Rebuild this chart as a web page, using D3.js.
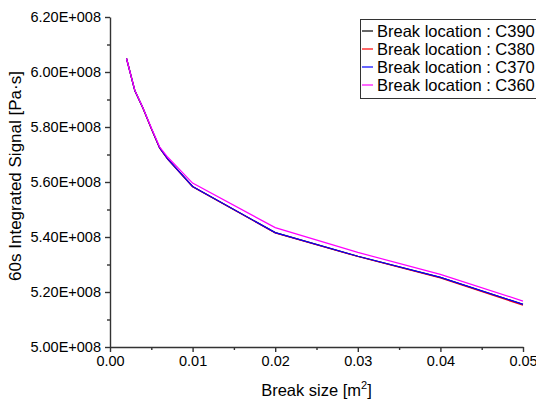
<!DOCTYPE html>
<html>
<head>
<meta charset="utf-8">
<script src="https://cdn.jsdelivr.net/npm/d3@7"></script>
<style>
  body { margin: 0; background: #fff; }
  text { font-family: "Liberation Sans", Arial, sans-serif; fill: #000; }
</style>
</head>
<body>
<div id="chart"></div>
<script>
// Chart size
const width = 536;
const height = 401;
const margin = { top: 17, right: 13, bottom: 54, left: 110 };

// Break sizes [m2]
const breakSizes = [0.002, 0.003, 0.004, 0.005, 0.006, 0.007, 0.01, 0.02, 0.03, 0.04, 0.05];

// Integrated signal per break location
const c390 = [6.049e8, 5.933e8, 5.868e8, 5.795e8, 5.725e8, 5.683e8, 5.584e8, 5.416e8, 5.330e8, 5.253e8, 5.155e8];
const c380 = [6.049e8, 5.933e8, 5.867e8, 5.794e8, 5.724e8, 5.682e8, 5.583e8, 5.415e8, 5.329e8, 5.251e8, 5.152e8];
const c370 = [6.049e8, 5.933e8, 5.868e8, 5.795e8, 5.725e8, 5.683e8, 5.584e8, 5.416e8, 5.330e8, 5.253e8, 5.155e8];
const c360 = [6.049e8, 5.934e8, 5.869e8, 5.797e8, 5.728e8, 5.690e8, 5.596e8, 5.434e8, 5.344e8, 5.264e8, 5.167e8];

const seriesNames = ["Break location : C390", "Break location : C380", "Break location : C370", "Break location : C360"];
const seriesValues = [c390, c380, c370, c360];
const seriesColors = ["#000000", "#ff0000", "#0000ff", "#ff00ff"];

// Tick values
const xTicks = [0, 0.01, 0.02, 0.03, 0.04, 0.05];
const xMinorTicks = [0.005, 0.015, 0.025, 0.035, 0.045];
const yTicks = [5.0e8, 5.2e8, 5.4e8, 5.6e8, 5.8e8, 6.0e8, 6.2e8];
const yMinorTicks = [5.1e8, 5.3e8, 5.5e8, 5.7e8, 5.9e8, 6.1e8];

const svg = d3.select('#chart')
    .append('svg')
    .attr('width', width)
    .attr('height', height);

const x = d3.scaleLinear()
    .domain([0, 0.05])
    .range([margin.left, width - margin.right]);

const y = d3.scaleLinear()
    .domain([5.0e8, 6.2e8])
    .range([height - margin.bottom, margin.top]);

// format like 6.20E+008
const sci = v => {
    const e = Math.floor(Math.log10(v));
    const m = v / Math.pow(10, e);
    return m.toFixed(2) + "E+" + String(e).padStart(3, "0");
};

// minor ticks first so the major ones sit on top
svg.append('g')
    .attr('transform', `translate(0,${y(5.0e8)})`)
    .call(d3.axisBottom(x).tickValues(xMinorTicks).tickSize(3).tickFormat(''))
    .call(g => g.select('.domain').remove());

svg.append('g')
    .attr('transform', `translate(${x(0)},0)`)
    .call(d3.axisLeft(y).tickValues(yMinorTicks).tickSize(3).tickFormat(''))
    .call(g => g.select('.domain').remove());

const xAxis = svg.append('g')
    .attr('transform', `translate(0,${y(5.0e8)})`)
    .call(d3.axisBottom(x).tickValues(xTicks).tickSize(5).tickSizeOuter(0).tickPadding(4)
        .tickFormat(d3.format('.2f')));

const yAxis = svg.append('g')
    .attr('transform', `translate(${x(0)},0)`)
    .call(d3.axisLeft(y).tickValues(yTicks).tickSize(5).tickSizeOuter(0).tickPadding(4)
        .tickFormat(sci));

svg.selectAll('.tick line, .domain')
    .attr('stroke', '#333')
    .attr('stroke-width', 1.4);

xAxis.selectAll('text').style('font-size', '14.5px').attr('fill', '#000');
yAxis.selectAll('text').style('font-size', '14.5px').attr('fill', '#000');

// Lines
const line = d3.line()
    .x((d, i) => x(breakSizes[i]))
    .y(d => y(d));

seriesValues.forEach((vals, i) => {
    svg.append('path')
        .datum(vals)
        .attr('fill', 'none')
        .attr('stroke', seriesColors[i])
        .attr('stroke-width', 1.2)
        .attr('d', line);
});

// Axis titles
svg.append('text')
    .attr('x', (x(0) + x(0.05)) / 2)
    .attr('y', 396)
    .attr('text-anchor', 'middle')
    .style('font-size', '16.5px')
    .html('Break size [m<tspan dy="-7" font-size="11px">2</tspan><tspan dy="7">]</tspan>');

svg.append('text')
    .attr('transform', `translate(21,176) rotate(-90)`)
    .attr('text-anchor', 'middle')
    .style('font-size', '17px')
    .text('60s Integrated Signal [Pa·s]');

// Legend
const legend = svg.append('g');
legend.append('rect')
    .attr('x', 360.5)
    .attr('y', 19.5)
    .attr('width', 200)
    .attr('height', 79)
    .attr('fill', '#fff')
    .attr('stroke', '#333')
    .attr('stroke-width', 1);

seriesNames.forEach((name, i) => {
    const ly = 31 + i * 18;
    legend.append('line')
        .attr('x1', 362).attr('x2', 373)
        .attr('y1', ly).attr('y2', ly)
        .attr('stroke', seriesColors[i])
        .attr('stroke-width', 1.2);
    legend.append('text')
        .attr('x', 377)
        .attr('y', ly)
        .attr('dy', '0.36em')
        .style('font-size', '16.5px')
        .text(name);
});
</script>
</body>
</html>
